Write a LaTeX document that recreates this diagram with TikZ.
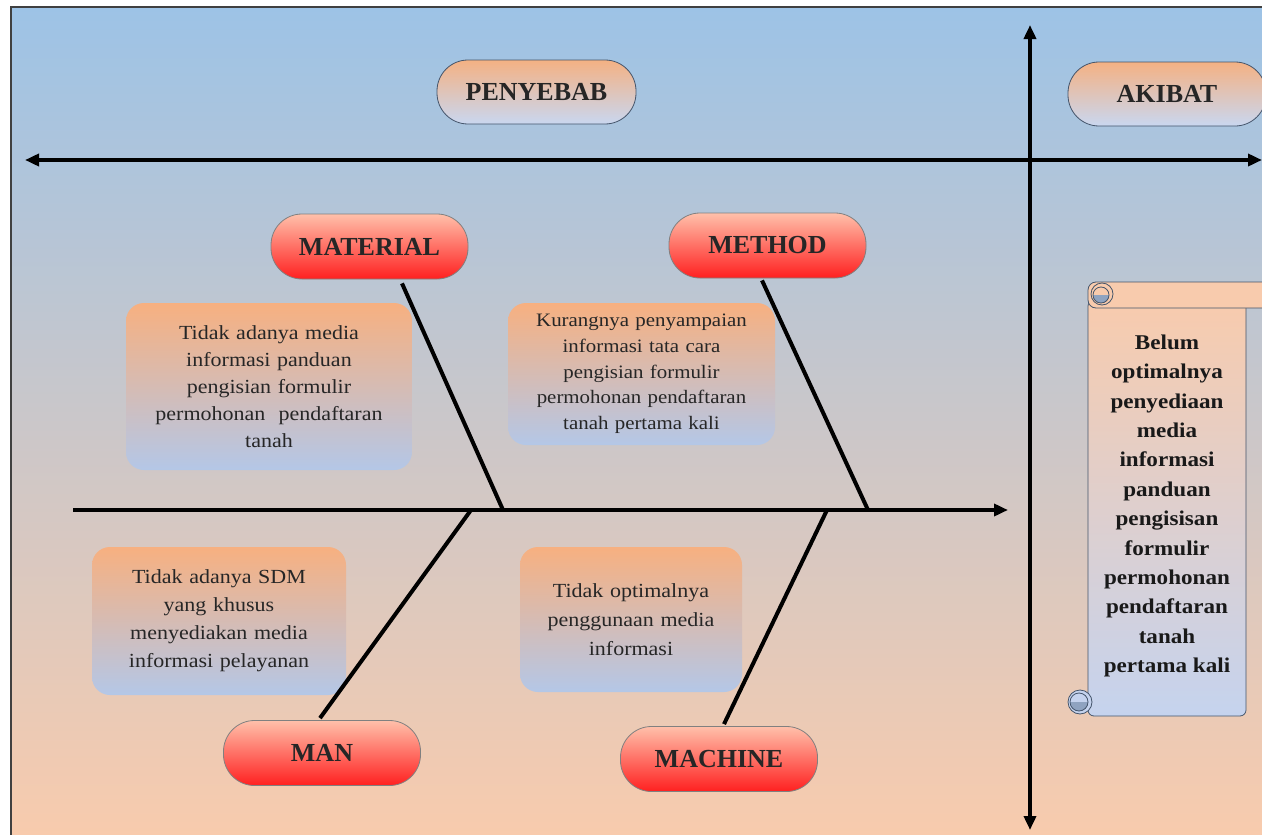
\documentclass[tikz,border=0pt]{standalone}
\usepackage{fontspec}
\setmainfont{Liberation Serif}
\newfontfamily\notefont{Liberation Serif}[FakeStretch=1.1]
\usetikzlibrary{arrows.meta,positioning}

\definecolor{bgtop}{RGB}{157,195,230}
\definecolor{bgbot}{RGB}{248,203,173}
\definecolor{hdtop}{RGB}{244,177,131}
\definecolor{hdbot}{RGB}{201,215,240}
\definecolor{hdline}{RGB}{68,84,106}
\definecolor{redtop}{RGB}{255,192,170}
\definecolor{redmid}{RGB}{255,120,100}
\definecolor{redbot}{RGB}{255,32,32}
\definecolor{redline}{RGB}{128,128,128}
\definecolor{notetop}{RGB}{247,176,128}
\definecolor{notebot}{RGB}{180,199,231}
\definecolor{scrtop}{RGB}{248,203,173}
\definecolor{scrbot}{RGB}{197,211,238}
\definecolor{scrline}{RGB}{68,84,106}
\definecolor{scrcurl}{RGB}{143,163,192}

\begin{document}
\begin{tikzpicture}[x=1pt,y=-1pt,>={Triangle[length=14pt,width=12pt]},
  axis/.style={line width=4pt,black},
  bone/.style={line width=4pt,black},
  headpill/.style={draw=hdline,line width=0.8pt,rounded corners=31pt,
    minimum width=199pt,minimum height=64pt,top color=hdtop,bottom color=hdbot,
    font=\bfseries\fontsize{26}{30}\selectfont,text=black!85},
  catpill/.style={draw=redline,line width=0.8pt,rounded corners=31pt,
    minimum width=197pt,minimum height=65pt,top color=redtop,middle color=redmid,
    bottom color=redbot,font=\bfseries\fontsize{26}{30}\selectfont,text=black!85},
  note/.style={rounded corners=18pt,top color=notetop,bottom color=notebot,
    align=center,inner sep=4pt,text=black!85,
    font=\notefont\fontsize{20}{27}\selectfont},
  curl/.style={scrline,line width=0.8pt}]
\useasboundingbox (0,0) rectangle (1262,835);

% background
\fill[white] (0,0) rectangle (1262,835);
\shade[top color=bgtop,bottom color=bgbot] (11,7) rectangle (1262,835);
\draw[black!75,line width=1.5pt] (11,835) -- (11,7) -- (1262,7);

% axes
\coordinate (left) at (25,160);
\coordinate (right) at (1262,160);
\coordinate (up) at (1030,25);
\coordinate (down) at (1030,830);
\draw[axis,<->] (left) -- (right);
\draw[axis,<->] (up) -- (down);

\node[headpill] (penyebab) at (536.5,92) {PENYEBAB};
\node[headpill,minimum width=198pt] (akibat) at (1167,94) {AKIBAT};

% categories
\node[catpill] (material) at (369.5,246.5) {MATERIAL};
\node[catpill] (method) at (767.5,245.5) {METHOD};
\node[catpill] (man) at (322,753) {MAN};
\node[catpill] (machine) at (719,759) {MACHINE};

% causes
\node[note,text width=278pt,minimum height=167pt] (nomedia) at (269,386.5)
  {Tidak adanya media\\informasi panduan\\pengisian formulir\\permohonan\ \ pendaftaran\\tanah};
\node[note,text width=259pt,minimum height=142pt,font=\notefont\fontsize{19}{25.7}\selectfont] (nosteps) at (641.5,374)
  {Kurangnya penyampaian\\informasi tata cara\\pengisian formulir\\permohonan pendaftaran\\tanah pertama kali};
\node[note,text width=246pt,minimum height=148pt,font=\notefont\fontsize{20}{28}\selectfont] (nostaff) at (219,621)
  {Tidak adanya SDM\\yang khusus\\menyediakan media\\informasi pelayanan};
\node[note,text width=214pt,minimum height=145pt,font=\notefont\fontsize{20}{29}\selectfont] (nouse) at (631,619.5)
  {Tidak optimalnya\\penggunaan media\\informasi};

% spine and bones
\coordinate (tail) at (73,510);
\coordinate (head) at (1008,510);
\coordinate (j1) at (503,510);
\coordinate (j2) at (868,510);
\coordinate (j3) at (471,510);
\coordinate (j4) at (827,510);
\draw[axis,->] (tail) -- (head);
\draw[bone] ([xshift=32.5pt,yshift=-4pt]material.south) -- (j1);
\draw[bone] ([xshift=-5.5pt,yshift=-2pt]method.south) -- (j2);
\draw[bone] ([xshift=-2pt,yshift=2pt]man.north) -- (j3);
\draw[bone] ([xshift=5pt,yshift=2pt]machine.north) -- (j4);

% effect scroll
\draw[curl,top color=scrtop,bottom color=scrbot,rounded corners=6pt]
  (1088,300) rectangle (1246,716);
\draw[curl,fill=scrbot] (1080,702) circle[radius=12];
\begin{scope}
  \clip (1066,702) rectangle (1095,716);
  \fill[scrcurl] (1079,702) circle[radius=9];
\end{scope}
\draw[curl] (1079,702) circle[radius=9];
\draw[curl,fill=scrtop,rounded corners=8pt]
  (1088,282) rectangle (1272,308);
\draw[curl,fill=scrtop] (1102,294) circle[radius=11];
\begin{scope}
  \clip (1090,295) rectangle (1114,306);
  \fill[scrcurl] (1101,295) circle[radius=8];
\end{scope}
\draw[curl] (1101,295) circle[radius=8];
\node[align=center,text=black!90,font=\notefont\bfseries\fontsize{21}{29.4}\selectfont] (result) at (1167,506)
  {Belum\\optimalnya\\penyediaan\\media\\informasi\\panduan\\pengisisan\\formulir\\permohonan\\pendaftaran\\tanah\\pertama kali};
\end{tikzpicture}
\end{document}
